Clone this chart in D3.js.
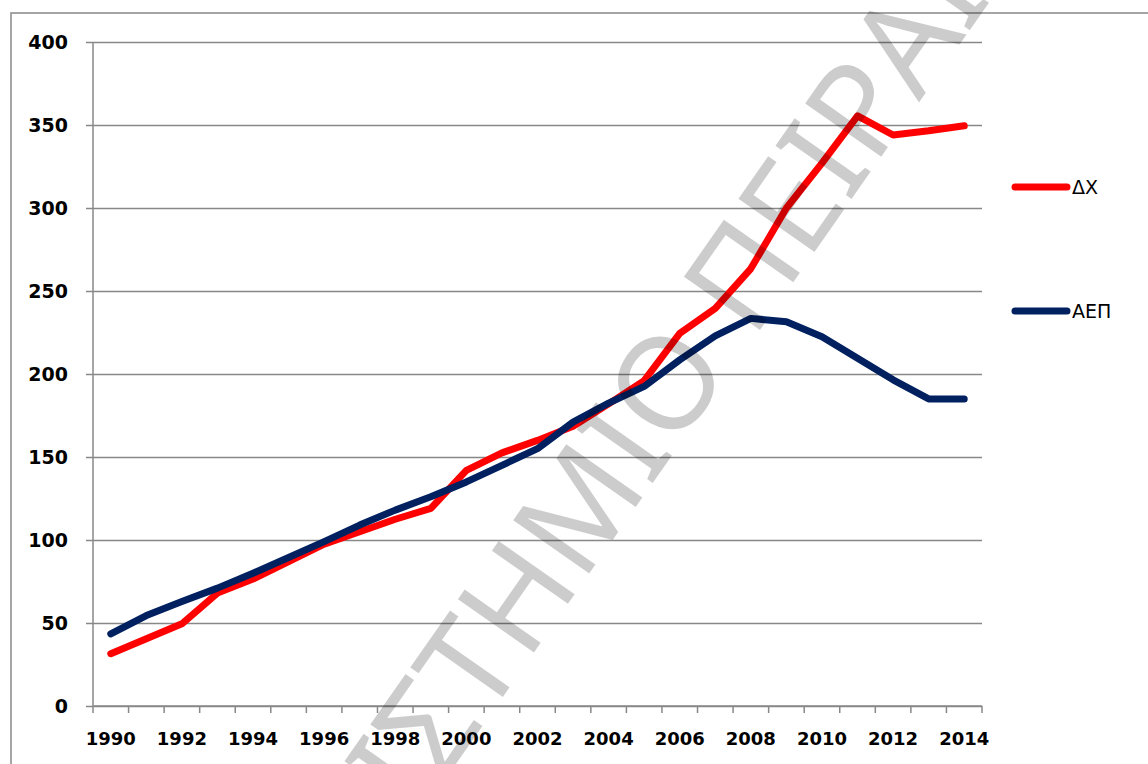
<!DOCTYPE html>
<html>
  <head>
    <meta charset="utf-8">
    <style>
      body { margin: 0; background: #fff; }
      .tick-label { font-family: "DejaVu Sans", sans-serif; font-weight: bold; fill: #000; }
      .legend-label { font-family: "DejaVu Sans", sans-serif; font-size: 19px; fill: #000; }
    </style>
  </head>
  <body>
    <script src="https://d3js.org/d3.v7.min.js"></script>
    <div id="chart"></div>
    <script>
      // Data
      var years = d3.range(1990, 2015);
      var dxValues = [31.5, 40.5, 49.5, 68, 76.5, 87, 97.5, 105, 112.5, 119,
                      142, 152.5, 160, 168.5, 182, 196, 224.5, 239.5, 263.5, 300,
                      327, 355.5, 344, 346.5, 349.5];
      var gdpValues = [43.5, 54.5, 63, 71, 80, 89.5, 99, 109, 118, 126,
                       135, 145, 155, 171, 182.5, 192.5, 208.5, 223, 233.5, 231.5,
                       222.5, 209.5, 196.5, 185, 185];
      var yTicks = [0, 50, 100, 150, 200, 250, 300, 350, 400];
      var xLabels = [1990, 1992, 1994, 1996, 1998, 2000, 2002, 2004, 2006, 2008, 2010, 2012, 2014];
      var seriesNames = ["ΔΧ", "ΑΕΠ"];
      var seriesColors = ["#ff0000", "#002060"];
      var watermark = "ΠΑΝΕΠΙΣΤΗΜΙΟ ΠΕΙΡΑΙΩΣ";

      var width = 1148, height = 764;
      var plot = {left: 93, right: 982, top: 42, bottom: 706};

      var svg = d3.select("#chart")
                  .append("svg")
                    .attr("width", width)
                    .attr("height", height)
                    .style("display", "block");

      svg.append("rect")
          .attr("width", width).attr("height", height)
          .attr("fill", "#fff");

      // outer chart border (runs off the right and bottom edges)
      svg.append("rect")
          .attr("x", 11).attr("y", 13)
          .attr("width", 1200).attr("height", 800)
          .attr("fill", "none")
          .attr("stroke", "#888")
          .attr("stroke-width", 1.5);

      // Scales
      var x = d3.scaleBand()
                .domain(years)
                .range([plot.left, plot.right])
                .padding(0);
      var y = d3.scaleLinear()
                .domain([0, 400])
                .range([plot.bottom, plot.top]);

      var cx = function(yr) { return x(yr) + x.bandwidth() / 2; };

      // Gridlines + y labels
      var yAxis = d3.axisLeft(y)
                    .tickValues(yTicks)
                    .tickSize(-(plot.right - plot.left))
                    .tickPadding(25)
                    .tickFormat(d3.format("d"));
      var gy = svg.append("g")
          .attr("transform", "translate(" + plot.left + ",0)")
          .call(yAxis);
      gy.select(".domain").remove();
      gy.selectAll(".tick line")
          .attr("x1", -7)
          .attr("stroke", "#888")
          .attr("stroke-width", 1.5);
      gy.selectAll(".tick text")
          .attr("class", "tick-label")
          .style("font-size", "19px");

      // y axis line
      svg.append("line")
          .attr("x1", plot.left).attr("x2", plot.left)
          .attr("y1", plot.top).attr("y2", plot.bottom)
          .attr("stroke", "#888").attr("stroke-width", 1.5);

      // x axis: ticks between categories, labels on every other year
      var gx = svg.append("g")
          .attr("transform", "translate(0," + plot.bottom + ")");
      gx.append("line")
          .attr("x1", plot.left).attr("x2", plot.right)
          .attr("stroke", "#888").attr("stroke-width", 1.5);
      gx.selectAll(".xtick")
          .data(years.concat([null]))
        .enter().append("line")
          .attr("class", "xtick")
          .attr("x1", function(d) { return d === null ? plot.right : x(d); })
          .attr("x2", function(d) { return d === null ? plot.right : x(d); })
          .attr("y1", 0).attr("y2", 7)
          .attr("stroke", "#888").attr("stroke-width", 1.5);
      gx.selectAll(".xlabel")
          .data(xLabels)
        .enter().append("text")
          .attr("class", "tick-label")
          .attr("x", function(d) { return cx(d); })
          .attr("y", 32)
          .attr("text-anchor", "middle")
          .attr("dominant-baseline", "central")
          .style("font-size", "18px")
          .text(function(d) { return d; });

      // Lines
      var line = d3.line()
                   .x(function(d, i) { return cx(years[i]); })
                   .y(function(d) { return y(d); });
      [dxValues, gdpValues].forEach(function(vals, k) {
        svg.append("path")
            .datum(vals)
            .attr("d", line)
            .attr("fill", "none")
            .attr("stroke", seriesColors[k])
            .attr("stroke-width", 7)
            .attr("stroke-linejoin", "round")
            .attr("stroke-linecap", "round");
      });

      // Legend
      var legendY = [187, 311];
      seriesNames.forEach(function(name, k) {
        var g = svg.append("g").attr("transform", "translate(1015," + legendY[k] + ")");
        g.append("line")
            .attr("x1", 0).attr("x2", 52)
            .attr("stroke", seriesColors[k])
            .attr("stroke-width", 7)
            .attr("stroke-linecap", "round");
        g.append("text")
            .attr("class", "legend-label")
            .attr("x", 57)
            .attr("dominant-baseline", "central")
            .text(name);
      });

      // Watermark
      svg.append("text")
          .attr("transform", "translate(584,493) rotate(-55)")
          .attr("text-anchor", "middle")
          .attr("dominant-baseline", "central")
          .style("font-family", "'Noto Sans', sans-serif")
          .style("font-size", "130px")
          .attr("fill", "#000")
          .attr("fill-opacity", 0.2)
          .text(watermark);
    </script>
  </body>
</html>
